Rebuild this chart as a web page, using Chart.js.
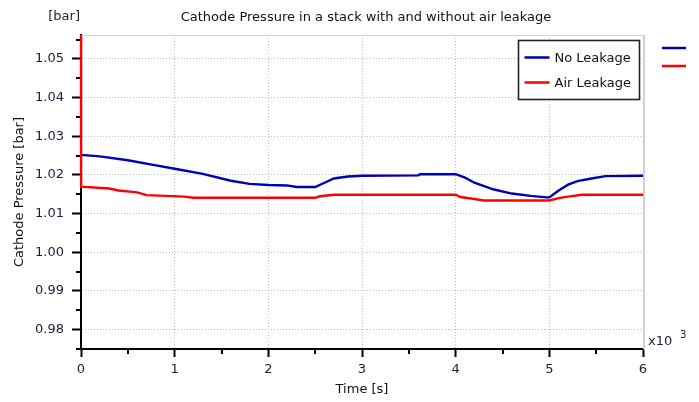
<!DOCTYPE html>
<html>
<head>
<meta charset="utf-8">
<script src="https://cdn.jsdelivr.net/npm/chart.js@4/dist/chart.umd.min.js"></script>
<style>
  html, body { margin: 0; padding: 0; background: #ffffff; }
  #wrap { width: 699px; height: 402px; }
</style>
</head>
<body>
<div id="wrap"><canvas id="c" width="699" height="402"></canvas></div>
<script>
// ---- chart text ----
const chartTitle = 'Cathode Pressure in a stack with and without air leakage';
const yUnitLabel = '[bar]';
const yAxisTitle = 'Cathode Pressure [bar]';
const xAxisTitle = 'Time [s]';
const xScaleNote = 'x10';
const xScaleExp = '3';
const seriesNames = ['No Leakage', 'Air Leakage'];

// ---- series: time [s] and cathode pressure [bar] ----
const noLeakTime = [0, 200, 500, 800, 1000, 1300, 1600, 1800, 2000, 2200, 2300, 2500,
  2600, 2700, 2850, 3000, 3600, 3620, 4000, 4100, 4200, 4400, 4600, 4800, 4970, 5000,
  5100, 5200, 5300, 5450, 5600, 6000];
const noLeakPressure = [1.0252, 1.0248, 1.0238, 1.0225, 1.0216, 1.0203, 1.0185, 1.0177,
  1.0174, 1.0173, 1.0169, 1.0169, 1.0180, 1.0191, 1.0196, 1.0198, 1.0199, 1.0202, 1.0202,
  1.0193, 1.0180, 1.0163, 1.0152, 1.0146, 1.0142, 1.0142, 1.0160, 1.0175, 1.0184, 1.0191,
  1.0197, 1.0198];

const airLeakTime = [0, 1, 300, 400, 600, 700, 1100, 1200, 2500, 2550, 2700, 4000, 4050,
  4200, 4300, 5000, 5100, 5200, 5350, 6000];
const airLeakPressure = [1.0700, 1.0170, 1.0165, 1.0160, 1.0155, 1.0148, 1.0144, 1.0141,
  1.0141, 1.0145, 1.0149, 1.0149, 1.0143, 1.0138, 1.0134, 1.0134, 1.0140, 1.0144, 1.0149,
  1.0149];

// ---- axis ticks ----
const xMajorTicks = [0, 1000, 2000, 3000, 4000, 5000, 6000];
const xTickLabels = ['0', '1', '2', '3', '4', '5', '6'];
const yMajorTicks = [0.98, 0.99, 1.00, 1.01, 1.02, 1.03, 1.04, 1.05];
const yTickLabels = ['0.98', '0.99', '1.00', '1.01', '1.02', '1.03', '1.04', '1.05'];

const seriesColors = ['#0000b4', '#ff0000'];
const FONT = 'DejaVu Sans';
const TEXT = '#1c1c3a';

const toPoints = (xs, ys) => xs.map((x, i) => ({ x, y: ys[i] }));
const near = (a, b) => Math.abs(a - b) < 1e-6;
const xMajorIndex = v => xMajorTicks.findIndex(t => near(t, v));
const yMajorIndex = v => yMajorTicks.findIndex(t => near(t, v));

// short ticks for the half steps, frame of the plot area
const frameAndMinorTicks = {
  id: 'frameAndMinorTicks',
  beforeDatasetsDraw(chart) {
    const { ctx, chartArea: a, scales: { x, y } } = chart;
    ctx.save();
    ctx.strokeStyle = '#d6d6d6';
    ctx.lineWidth = 1;
    ctx.beginPath();
    ctx.moveTo(a.left, a.top + 0.5);
    ctx.lineTo(a.right, a.top + 0.5);
    ctx.stroke();
    ctx.lineWidth = 2;
    ctx.strokeStyle = '#cfcfcf';
    ctx.beginPath();
    ctx.moveTo(a.right + 1, a.top);
    ctx.lineTo(a.right + 1, a.bottom);
    ctx.stroke();

    ctx.strokeStyle = '#000000';
    ctx.lineWidth = 2;
    ctx.beginPath();
    x.ticks.forEach(t => {
      if (xMajorIndex(t.value) < 0) {
        const px = Math.round(x.getPixelForValue(t.value));
        ctx.moveTo(px, a.bottom);
        ctx.lineTo(px, a.bottom + 5);
      }
    });
    y.ticks.forEach(t => {
      if (yMajorIndex(t.value) < 0) {
        const py = Math.round(y.getPixelForValue(t.value));
        ctx.moveTo(a.left - 5, py);
        ctx.lineTo(a.left, py);
      }
    });
    ctx.stroke();
    ctx.restore();
  }
};

// title, unit, exponent note and the boxed legend
const annotations = {
  id: 'annotations',
  afterDraw(chart) {
    const { ctx, chartArea: a } = chart;
    const sets = chart.data.datasets;
    ctx.save();
    ctx.fillStyle = '#111111';
    ctx.font = '13px "' + FONT + '"';
    ctx.textBaseline = 'alphabetic';
    ctx.textAlign = 'center';
    ctx.fillText(chartTitle, (a.left + a.right) / 2 + 4, 20.5);
    ctx.textAlign = 'right';
    ctx.fillStyle = TEXT;
    ctx.fillText(yUnitLabel, a.left - 1, 20);

    ctx.textAlign = 'left';
    ctx.fillText(xScaleNote, a.right + 5, a.bottom - 4);
    ctx.font = '10px "' + FONT + '"';
    ctx.fillText(xScaleExp, a.right + 37, a.bottom - 11);

    // legend box
    const bx0 = a.right - 124.5, bx1 = a.right - 3.5;
    const by0 = a.top + 5.5, by1 = a.top + 64.5;
    ctx.fillStyle = '#ffffff';
    ctx.fillRect(bx0, by0, bx1 - bx0, by1 - by0);
    ctx.strokeStyle = '#222222';
    ctx.lineWidth = 1.6;
    ctx.strokeRect(bx0, by0, bx1 - bx0, by1 - by0);
    ctx.font = '13px "' + FONT + '"';
    ctx.textBaseline = 'middle';
    sets.forEach((ds, i) => {
      const rowY = a.top + 22.5 + i * 25;
      ctx.strokeStyle = ds.borderColor;
      ctx.lineWidth = 2.5;
      ctx.beginPath();
      ctx.moveTo(bx0 + 6, rowY);
      ctx.lineTo(bx0 + 31, rowY);
      ctx.stroke();
      ctx.fillStyle = '#111111';
      ctx.fillText(ds.label, bx0 + 36, rowY + 1);
      // plain swatches beside the plot
      const sy = a.top + 13 + i * 18;
      ctx.beginPath();
      ctx.moveTo(a.right + 19, sy);
      ctx.lineTo(a.right + 43, sy);
      ctx.stroke();
    });
    ctx.restore();
  }
};

new Chart(document.getElementById('c'), {
  type: 'line',
  data: {
    datasets: [
      {
        label: seriesNames[0],
        data: toPoints(noLeakTime, noLeakPressure),
        borderColor: seriesColors[0],
        borderWidth: 2.4,
        pointRadius: 0,
        tension: 0,
        order: 1,
        clip: { left: 3, top: 0, right: 0, bottom: 0 }
      },
      {
        label: seriesNames[1],
        data: toPoints(airLeakTime, airLeakPressure),
        borderColor: seriesColors[1],
        borderWidth: 2.4,
        pointRadius: 0,
        tension: 0,
        order: 0,
        clip: { left: 3, top: 0, right: 0, bottom: 0 }
      }
    ]
  },
  options: {
    responsive: false,
    animation: false,
    devicePixelRatio: 1,
    layout: { padding: { top: 35, right: 56, bottom: 0, left: 0 } },
    plugins: {
      legend: { display: false },
      title: { display: false },
      tooltip: { enabled: false }
    },
    scales: {
      x: {
        type: 'linear',
        min: 0,
        max: 6000,
        afterFit: s => { s.height = 53; },
        ticks: {
          stepSize: 500,
          autoSkip: false,
          maxRotation: 0,
          includeBounds: false,
          padding: 5,
          color: TEXT,
          font: { family: FONT, size: 13 },
          callback: v => { const k = xMajorIndex(v); return k < 0 ? '' : xTickLabels[k]; }
        },
        grid: {
          color: c => {
            const v = c.tick ? c.tick.value : NaN;
            return (xMajorIndex(v) > 0 && xMajorIndex(v) < xMajorTicks.length - 1) ? '#bdbdbd' : 'transparent';
          },
          tickColor: c => (c.tick && xMajorIndex(c.tick.value) >= 0 ? '#000000' : 'transparent'),
          tickLength: 8,
          tickWidth: 2,
          lineWidth: 1
        },
        border: { color: '#000000', width: 2, dash: [1, 2] },
        title: {
          display: true,
          text: xAxisTitle,
          color: '#111111',
          font: { family: FONT, size: 13 },
          padding: { top: 0, bottom: 5 }
        }
      },
      y: {
        type: 'linear',
        min: 0.975,
        max: 1.0562,
        afterFit: s => { s.width = 81; },
        ticks: {
          stepSize: 0.005,
          autoSkip: false,
          includeBounds: false,
          padding: 8,
          color: TEXT,
          font: { family: FONT, size: 13 },
          callback: v => { const k = yMajorIndex(v); return k < 0 ? '' : yTickLabels[k]; }
        },
        grid: {
          color: c => (c.tick && yMajorIndex(c.tick.value) >= 0 ? '#bdbdbd' : 'transparent'),
          tickColor: c => (c.tick && yMajorIndex(c.tick.value) >= 0 ? '#000000' : 'transparent'),
          tickLength: 9,
          tickWidth: 2,
          lineWidth: 1
        },
        border: { color: '#000000', width: 2, dash: [1, 2] },
        title: {
          display: true,
          text: yAxisTitle,
          color: '#111111',
          font: { family: FONT, size: 13 },
          padding: { top: 12, bottom: 0 }
        }
      }
    }
  },
  plugins: [frameAndMinorTicks, annotations]
});
</script>
</body>
</html>
